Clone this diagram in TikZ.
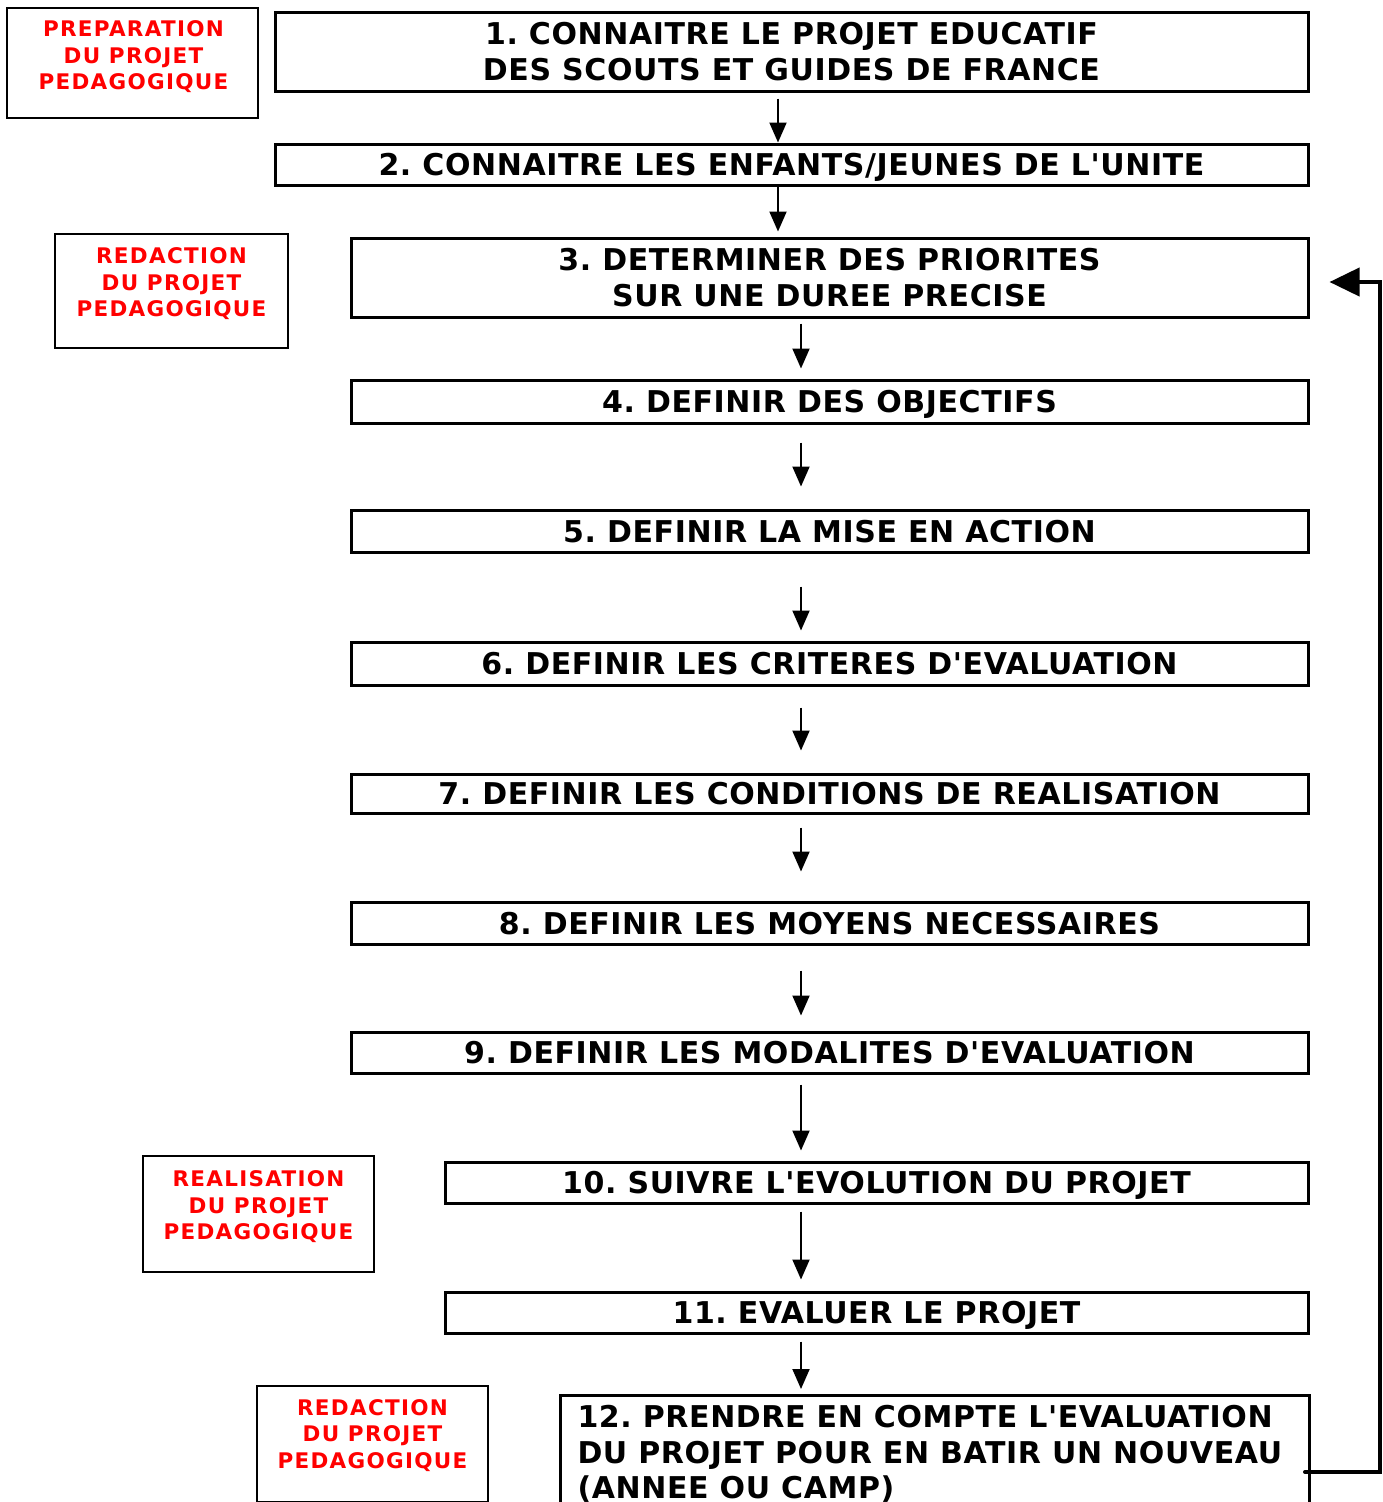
\documentclass[tikz,border=0pt]{standalone}
\usepackage{fontspec}
\newfontfamily\boxfont{DejaVu Sans}[LetterSpace=2]
\newfontfamily\labfont{DejaVu Sans}[LetterSpace=6]
\usetikzlibrary{arrows.meta,calc}
\definecolor{labred}{RGB}{255,0,0}
\frenchspacing
\begin{document}
\frenchspacing
\begin{tikzpicture}[x=1pt,y=-1pt,
  stepbox/.style={draw=black,line width=3pt,inner sep=0pt,align=center,
    font=\frenchspacing\boxfont\bfseries\fontsize{30}{35.5}\selectfont},
  one/.style={text height=22pt,text depth=0pt},
  wide/.style={stepbox,minimum width=1033pt},
  mid/.style={stepbox,minimum width=957pt},
  narrow/.style={stepbox,minimum width=863pt},
  labbox/.style={draw=black,line width=1.5pt,inner sep=0pt},
  labtext/.style={text=labred,align=center,inner sep=0pt,
    font=\labfont\bfseries\fontsize{21.5}{26.5}\selectfont},
  arr/.style={line width=2pt,-{Triangle[width=17pt,length=20pt]}},
  fb/.style={line width=4pt,line cap=round,line join=miter,-{Triangle[width=28pt,length=30pt]}}]
\clip (0,0) rectangle (1382,1502);
\useasboundingbox (0,0) rectangle (1382,1502);
\fill[white] (0,0) rectangle (1382,1502);

% step boxes
\node[wide,minimum height=79pt] (b1) at (791.5,51.5) {1. CONNAITRE LE PROJET EDUCATIF\\DES SCOUTS ET GUIDES DE FRANCE};
\node[wide,one,minimum height=41pt] (b2) at (791.5,164.5) {2. CONNAITRE LES ENFANTS/JEUNES DE L'UNITE};
\node[mid,minimum height=79pt] (b3) at (829.5,277.5) {3. DETERMINER DES PRIORITES\\SUR UNE DUREE PRECISE};
\node[mid,one,minimum height=43pt] (b4) at (829.5,401.5) {4. DEFINIR DES OBJECTIFS};
\node[mid,one,minimum height=42pt] (b5) at (829.5,531) {5. DEFINIR LA MISE EN ACTION};
\node[mid,one,minimum height=43pt] (b6) at (829.5,663.5) {6. DEFINIR LES CRITERES D'EVALUATION};
\node[mid,one,minimum height=39pt] (b7) at (829.5,793.5) {7. DEFINIR LES CONDITIONS DE REALISATION};
\node[mid,one,minimum height=42pt] (b8) at (829.5,923) {8. DEFINIR LES MOYENS NECESSAIRES};
\node[mid,one,minimum height=41pt] (b9) at (829.5,1052.5) {9. DEFINIR LES MODALITES D'EVALUATION};
\node[narrow,one,minimum height=41pt] (b10) at (876.5,1182.5) {10. SUIVRE L'EVOLUTION DU PROJET};
\node[narrow,one,minimum height=41pt] (b11) at (876.5,1312.5) {11. EVALUER LE PROJET};
\node[stepbox,anchor=north west,minimum width=749pt,minimum height=150pt] (b12) at (559,1394) {};
\node[stepbox,draw=none,anchor=west,align=left] (t12) at (576,1454)
  {12. PRENDRE EN COMPTE L'EVALUATION\\DU PROJET POUR EN BATIR UN NOUVEAU\\(ANNEE OU CAMP)};

% label boxes
\node[labbox,minimum width=251pt,minimum height=110pt] (l1) at (132.5,63) {};
\node[labtext] (lt1) at (133.5,57) {PREPARATION\\DU PROJET\\PEDAGOGIQUE};
\node[labbox,minimum width=233pt,minimum height=114pt] (l2) at (171.5,291) {};
\node[labtext] (lt2) at (171.5,284) {REDACTION\\DU PROJET\\PEDAGOGIQUE};
\node[labbox,minimum width=231pt,minimum height=116pt] (l3) at (258.5,1214) {};
\node[labtext] (lt3) at (258.5,1207) {REALISATION\\DU PROJET\\PEDAGOGIQUE};
\node[labbox,minimum width=231pt,minimum height=116pt] (l4) at (372.5,1444) {};
\node[labtext] (lt4) at (372.5,1435.5) {REDACTION\\DU PROJET\\PEDAGOGIQUE};

% arrow columns
\coordinate (ca) at (778,0);
\coordinate (cb) at (801,0);
\draw[arr,shorten <=6pt] (b1.south -| ca) -- (b2.north -| ca);
\draw[arr,shorten >=5pt] (b2.south -| ca) -- (b3.north -| ca);
\draw[arr,shorten <=5pt,shorten >=10pt] (b3.south -| cb) -- (b4.north -| cb);
\draw[arr,shorten <=18pt,shorten >=22pt] (b4.south -| cb) -- (b5.north -| cb);
\draw[arr,shorten <=33pt,shorten >=10pt] (b5.south -| cb) -- (b6.north -| cb);
\draw[arr,shorten <=21pt,shorten >=22pt] (b6.south -| cb) -- (b7.north -| cb);
\draw[arr,shorten <=13pt,shorten >=29pt] (b7.south -| cb) -- (b8.north -| cb);
\draw[arr,shorten <=25pt,shorten >=15pt] (b8.south -| cb) -- (b9.north -| cb);
\draw[arr,shorten <=10pt,shorten >=10pt] (b9.south -| cb) -- (b10.north -| cb);
\draw[arr,shorten <=7pt,shorten >=11pt] (b10.south -| cb) -- (b11.north -| cb);
\draw[arr,shorten <=7pt,shorten >=5pt] (b11.south -| cb) -- (b12.north -| cb);

% feedback loop
\coordinate (fb1) at (1380,1472);
\coordinate (fb2) at (1380,282);
\draw[fb,shorten >=20pt] ($(b12.east |- fb1)+(-6,0)$) -- (fb1) -- (fb2) -- (b3.east |- fb2);
\end{tikzpicture}
\end{document}
